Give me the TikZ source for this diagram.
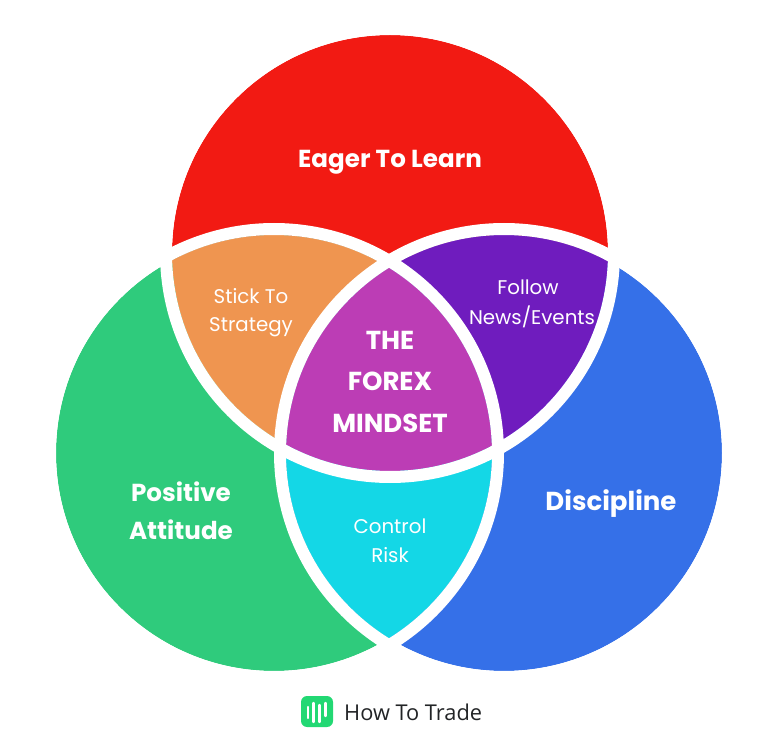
\documentclass[tikz,border=0pt]{standalone}
\usepackage{fontspec}
\setmainfont{Poppins}
\newfontfamily\logofont{Open Sans}
\definecolor{cred}{HTML}{F21A13}
\definecolor{cgreen}{HTML}{2FCB7C}
\definecolor{cblue}{HTML}{3570E8}
\definecolor{corange}{HTML}{EF9550}
\definecolor{cpurple}{HTML}{6F1CBE}
\definecolor{ccyan}{HTML}{14D7E6}
\definecolor{cmagenta}{HTML}{BC3DB5}
\definecolor{clogo}{HTML}{22D873}
\definecolor{cink}{HTML}{222426}
\tikzset{
  bigtext/.style={text=white,font=\fontsize{24.6}{28}\selectfont\bfseries,inner sep=0pt,anchor=center},
  disctext/.style={text=white,font=\fontsize{26}{30}\selectfont\bfseries,inner sep=0pt,anchor=center},
  midtext/.style={text=white,font=\fontsize{26}{30}\selectfont\bfseries,inner sep=0pt,anchor=center},
  smalltext/.style={text=white,font=\fontsize{19.8}{24}\selectfont,inner sep=0pt,anchor=center},
  ring/.style={draw=white,line width=12pt},
  logobar/.style={draw=white,line width=2.4pt,line cap=round}
}
\def\redc{(390,253) circle [radius=218pt]}
\def\greenc{(274,453) circle [radius=218pt]}
\def\bluec{(504,453) circle [radius=218pt]}
\begin{document}
\begin{tikzpicture}[x=1pt,y=-1pt]
\useasboundingbox (0,0) rectangle (780,751);
\fill[cred] \redc;
\fill[cgreen] \greenc;
\fill[cblue] \bluec;
\begin{scope}\clip \redc; \fill[corange] \greenc; \fill[cpurple] \bluec; \end{scope}
\begin{scope}\clip \greenc; \fill[ccyan] \bluec; \end{scope}
\begin{scope}\clip \redc; \clip \greenc; \fill[cmagenta] \bluec; \end{scope}
\draw[ring] (390,253) circle [radius=224pt];
\draw[ring] (274,453) circle [radius=224pt];
\draw[ring] (504,453) circle [radius=224pt];
\node[bigtext] (eager) at (390,162) {Eager To Learn};
\node[bigtext] (pos) at (181,492) {Positive};
\node[bigtext] (att) at (181,530) {Attitude};
\node[disctext] (disc) at (611,504) {Discipline};
\node[smalltext] (stick) at (251,296) {Stick To};
\node[smalltext] (strat) at (251,327) {Strategy};
\node[smalltext] (follow) at (528,287) {Follow};
\node[smalltext] (news) at (532,317) {News/Events};
\node[smalltext] (ctrl) at (390,526) {Control};
\node[smalltext] (risk) at (390,555) {Risk};
\node[midtext] (the) at (390,340) {THE};
\node[midtext] (forex) at (390,381) {FOREX};
\node[midtext] (mind) at (390,423) {MINDSET};
\fill[clogo,rounded corners=6pt] (301,696) rectangle (333,727);
\draw[logobar] (308,707) -- (308,718);
\draw[logobar] (313.5,703) -- (313.5,722);
\draw[logobar] (319.5,705) -- (319.5,722);
\draw[logobar] (325.5,703) -- (325.5,716);
\node[text=cink,font=\logofont\fontsize{21.8}{25}\selectfont,inner sep=0pt,anchor=west] (brand) at (344,712.5) {How To Trade};
\end{tikzpicture}
\end{document}
